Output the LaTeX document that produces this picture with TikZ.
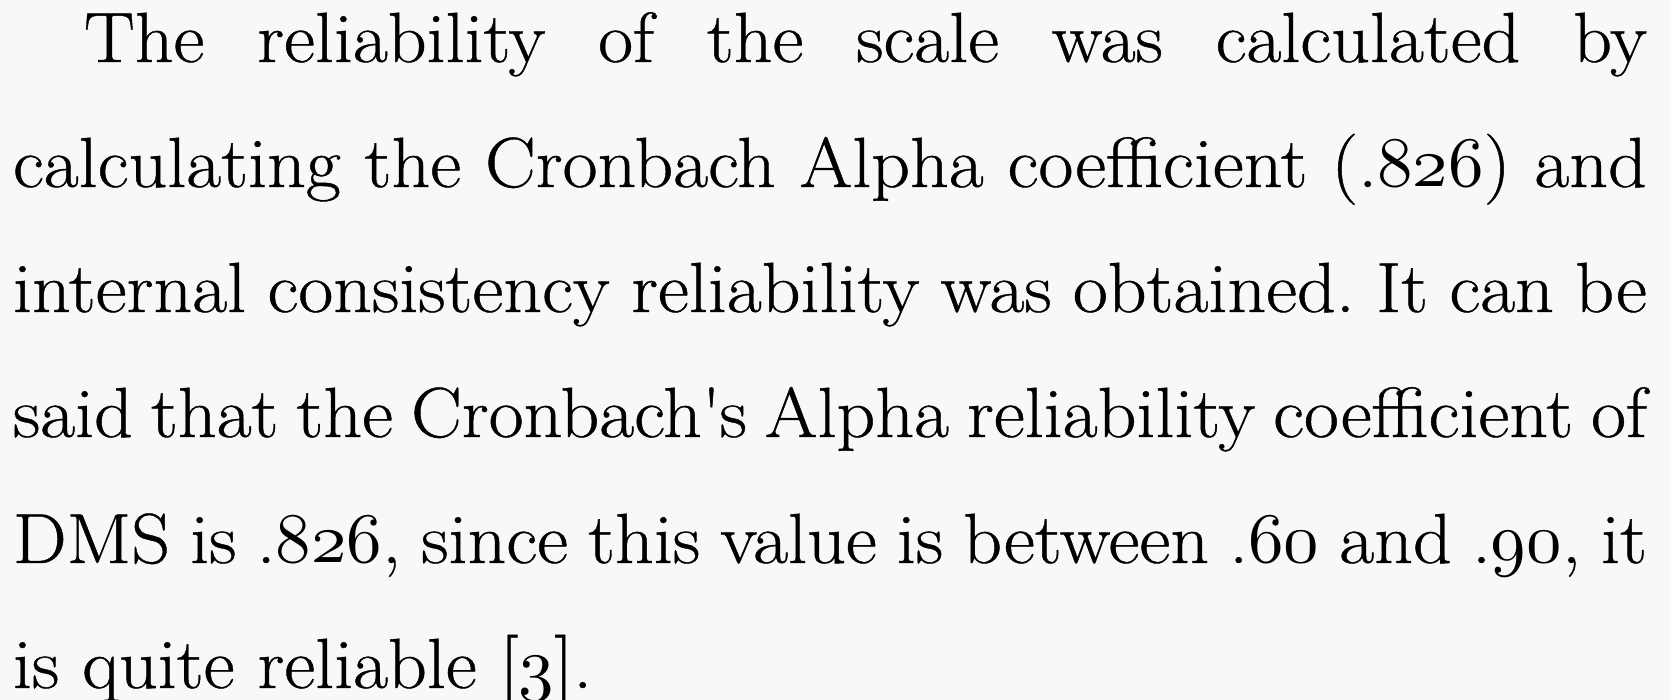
\documentclass[tikz,border=0pt]{standalone}
\usepackage{fontspec}
\setmainfont{Latin Modern Roman}[FakeStretch=1.07, FakeBold=0.6]
\DeclareFontFamily{OML}{osfdig}{\skewchar\font=127}
\DeclareFontShape{OML}{osfdig}{m}{it}{<->cmmi10}{}
\newcommand{\osnum}[1]{{\fontencoding{OML}\fontfamily{osfdig}\fontseries{m}\fontshape{it}\selectfont #1}}
\definecolor{bgc}{RGB}{248,248,248}
\frenchspacing
\tikzset{txtline/.style={anchor=base west, inner sep=0pt, outer sep=0pt, text=black, font=\fontsize{71}{85}\selectfont\frenchspacing}}
\begin{document}
\begin{tikzpicture}[x=1pt,y=1pt]
\fill[bgc] (0,0) rectangle (1671,700);
\useasboundingbox (0,0) rectangle (1671,700);
\node[txtline] (l1) at (84,638) {\makebox[1563pt][s]{The reliability of the scale was calculated by}};
\node[txtline] (l2) at (13,513) {\makebox[1634pt][s]{calculating the Cronbach Alpha coefficient (.\osnum{826}) and}};
\node[txtline] (l3) at (13,388) {\makebox[1634pt][s]{internal consistency reliability was obtained. It can be}};
\node[txtline] (l4) at (13,263) {\makebox[1634pt][s]{said that the Cronbach\textquotesingle s Alpha reliability coefficient of}};
\node[txtline] (l5) at (13,137) {\makebox[1634pt][s]{DMS is .\osnum{826}, since this value is between .\osnum{60} and .\osnum{90}, it}};
\node[txtline] (l6) at (13,12) {is quite reliable [\osnum{3}].};
\end{tikzpicture}
\end{document}
